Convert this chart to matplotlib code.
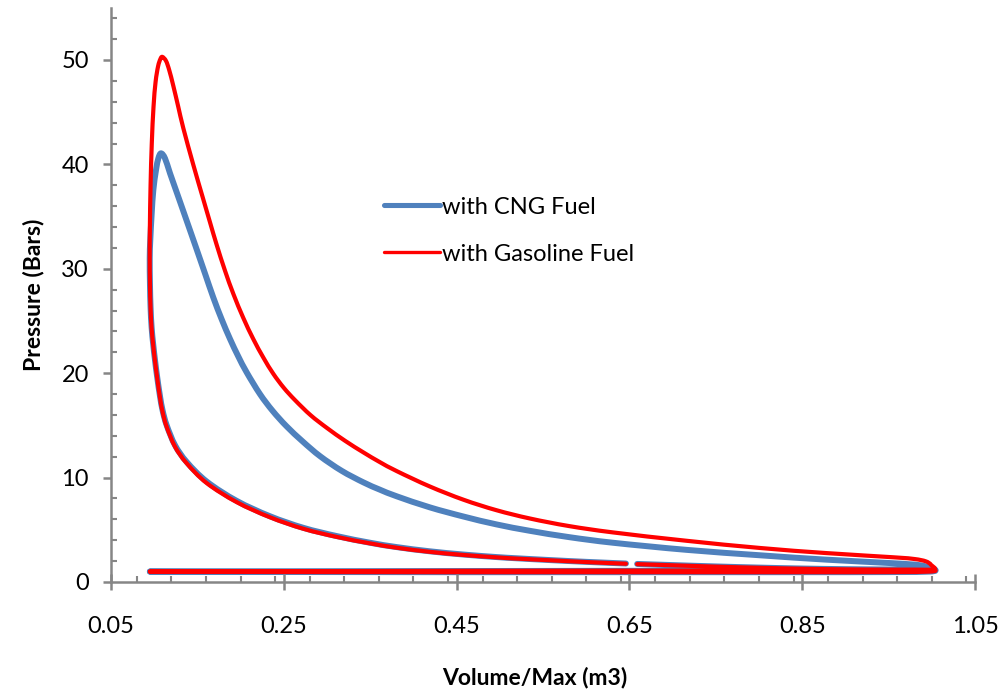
import numpy as np
import matplotlib
matplotlib.use("Agg")
import matplotlib.pyplot as plt
from matplotlib.path import Path
from matplotlib.patches import PathPatch
from matplotlib.lines import Line2D
from matplotlib.ticker import MultipleLocator, FixedLocator

nan = np.nan

# ---- data (Volume/Max, Pressure in bars) ----
# intake stroke (shared), TDC -> BDC
intake_v = [0.095, 0.15, 0.25, 0.35, 0.45, 0.55, 0.65, 0.75, 0.85, 0.95, 0.998]
intake_p = [1.00, 0.98, 0.96, 0.95, 0.94, 0.94, 0.94, 0.94, 0.94, 0.95, 1.00]

# compression stroke, BDC -> TDC (small gap near 0.65 as in the reference)
comp_v = [0.999, 0.95, 0.90, 0.85, 0.80, 0.75, 0.70, 0.659, nan, 0.646, 0.60,
          0.558, 0.52, 0.496, 0.458, 0.419, 0.381, 0.3498, 0.3112, 0.2726,
          0.234, 0.1955, 0.1608, 0.1376, 0.1241, 0.1145, 0.1098, 0.1067,
          0.1035, 0.1010, 0.0988, 0.0970, 0.0958, 0.0951, 0.0948]
comp_p_cng = [1.19, 1.20, 1.23, 1.29, 1.38, 1.49, 1.62, 1.73, nan, 1.77, 1.93,
              2.10, 2.27, 2.39, 2.63, 2.94, 3.34, 3.76, 4.40, 5.19,
              6.30, 7.77, 9.62, 11.5, 13.1, 15.0, 16.4, 17.8,
              19.6, 21.2, 22.8, 24.4, 26.3, 28.5, 31.0]
comp_p_gas = [1.17, 1.18, 1.21, 1.27, 1.36, 1.47, 1.60, 1.71, nan, 1.75, 1.91,
              2.08, 2.24, 2.36, 2.59, 2.89, 3.28, 3.70, 4.32, 5.10,
              6.20, 7.65, 9.47, 11.37, 12.96, 14.85, 16.25, 17.65,
              19.5, 21.1, 22.7, 24.3, 26.2, 28.5, 31.0]

# combustion + expansion, TDC -> BDC
cng_exp_v = [0.0955, 0.0971, 0.0990, 0.1021, 0.1048, 0.1079, 0.1125, 0.1183,
             0.1285, 0.1376, 0.1492, 0.1588, 0.1684, 0.1781, 0.1877, 0.1973,
             0.2071, 0.2225, 0.237, 0.253, 0.272, 0.292, 0.317, 0.342, 0.361,
             0.381, 0.419, 0.458, 0.496, 0.535, 0.58, 0.631, 0.716, 0.801,
             0.878, 0.955, 0.985, 0.998]
cng_exp_p = [32.8, 35.3, 37.55, 39.46, 40.58, 41.06, 40.58, 39.15,
             36.75, 34.6, 31.85, 29.55, 27.25, 25.16, 23.29, 21.61,
             20.07, 17.99, 16.40, 14.93, 13.45, 12.05, 10.65, 9.55, 8.85,
             8.20, 7.15, 6.27, 5.52, 4.90, 4.30, 3.76, 3.08, 2.56,
             2.14, 1.80, 1.62, 1.35]

gas_exp_v = [0.0950, 0.0958, 0.0972, 0.0992, 0.1016, 0.1045, 0.1072, 0.1094,
             0.1137, 0.1175, 0.1221, 0.1279, 0.1337, 0.1453, 0.156, 0.1646,
             0.1723, 0.1819, 0.1916, 0.2031, 0.2147, 0.2263, 0.2378, 0.250,
             0.263, 0.281, 0.300, 0.321, 0.342, 0.361, 0.381, 0.419, 0.458,
             0.496, 0.535, 0.58, 0.631, 0.716, 0.801, 0.878, 0.955, 0.980,
             0.993, 0.999]
gas_exp_p = [34.0, 38.0, 42.0, 45.5, 47.9, 49.4, 50.1, 50.3,
             49.91, 49.0, 47.53, 45.5, 43.47, 39.95, 36.89, 34.45,
             32.3, 29.83, 27.6, 25.3, 23.27, 21.5, 19.95, 18.6,
             17.42, 15.98, 14.75, 13.52, 12.42, 11.49, 10.61, 9.15, 7.88,
             6.88, 6.08, 5.36, 4.75, 3.95, 3.26, 2.77, 2.37, 2.20,
             1.98, 1.65]

# exhaust stroke, BDC -> TDC
exhaust_v = [1.0, 0.95, 0.85, 0.75, 0.65, 0.55, 0.45, 0.35, 0.25, 0.15, 0.095]
exhaust_p_cng = [1.14, 1.12, 1.10, 1.08, 1.07, 1.06, 1.05, 1.04, 1.03, 1.01, 1.00]
exhaust_p_gas = [1.16, 1.14, 1.12, 1.10, 1.09, 1.08, 1.07, 1.05, 1.04, 1.02, 1.00]

series_labels = ["with CNG Fuel", "with Gasoline Fuel"]
x_ticks = [0.05, 0.25, 0.45, 0.65, 0.85, 1.05]
x_tick_labels = ["0.05", "0.25", "0.45", "0.65", "0.85", "1.05"]
y_ticks = [0, 10, 20, 30, 40, 50]

# ---- build cycles ----
cng_v = intake_v + comp_v + cng_exp_v + exhaust_v
cng_p = intake_p + comp_p_cng + cng_exp_p + exhaust_p_cng
gas_v = intake_v + comp_v + gas_exp_v + exhaust_v
gas_p = intake_p + comp_p_gas + gas_exp_p + exhaust_p_gas


def smoothed_path(xs, ys):
    """Smoothed line through the points (like a spreadsheet 'smoothed line')."""
    xs = np.asarray(xs, float)
    ys = np.asarray(ys, float)
    verts, codes = [], []
    bad = np.isnan(xs) | np.isnan(ys)
    idx = np.where(bad)[0]
    starts = np.concatenate([[0], idx + 1])
    ends = np.concatenate([idx, [len(xs)]])
    for s, e in zip(starts, ends):
        P = np.column_stack([xs[s:e], ys[s:e]])
        n = len(P)
        if n == 0:
            continue
        verts.append(P[0]); codes.append(Path.MOVETO)
        if n == 1:
            continue
        Q = np.vstack([P[0], P, P[-1]])
        for i in range(n - 1):
            p0, p1, p2, p3 = Q[i], Q[i + 1], Q[i + 2], Q[i + 3]
            c1 = p1 + (p2 - p0) / 6.0
            c2 = p2 - (p3 - p1) / 6.0
            verts += [c1, c2, p2]
            codes += [Path.CURVE4] * 3
    return Path(np.array(verts), codes)


blue = "#4F81BD"
red = "#FF0000"
axis_gray = "#868686"
blue_lw = 4.3
red_lw = 3.0

fig = plt.figure(figsize=(10.02, 6.93), dpi=100)
ax = fig.add_axes([111 / 1002, 111 / 693, 864 / 1002, 574.2 / 693])

ax.add_patch(PathPatch(smoothed_path(cng_v, cng_p), fill=False, edgecolor=blue,
                       lw=blue_lw, capstyle="round", joinstyle="round"))
ax.add_patch(PathPatch(smoothed_path(gas_v, gas_p), fill=False, edgecolor=red,
                       lw=red_lw, capstyle="round", joinstyle="round"))

ax.set_xlim(0.05, 1.05)
ax.set_ylim(0, 55)

ax.xaxis.set_major_locator(FixedLocator(x_ticks))
ax.set_xticklabels(x_tick_labels)
ax.xaxis.set_minor_locator(MultipleLocator(0.04))
ax.yaxis.set_major_locator(FixedLocator(y_ticks))
ax.yaxis.set_minor_locator(MultipleLocator(2))

for s in ["top", "right"]:
    ax.spines[s].set_visible(False)
for s in ["left", "bottom"]:
    ax.spines[s].set_color(axis_gray)
    ax.spines[s].set_linewidth(1.8)

tick_font = "Lato"
ax.tick_params(axis="x", which="major", direction="inout", length=11,
               width=1.8, color=axis_gray, pad=19, labelsize=17)
ax.tick_params(axis="x", which="minor", direction="in", length=4.5,
               width=1.5, color=axis_gray)
ax.tick_params(axis="y", which="major", direction="out", length=6,
               width=1.8, color=axis_gray, pad=10, labelsize=17)
ax.tick_params(axis="y", which="minor", direction="in", length=4.5,
               width=1.5, color=axis_gray)
for lab in ax.get_xticklabels() + ax.get_yticklabels():
    lab.set_fontfamily(tick_font)

ax.set_xlabel("Volume/Max (m3)", fontsize=16.5, fontweight="bold",
              family="Lato", labelpad=21)
ax.xaxis.label.set_x(0.4907)
ax.set_ylabel("Pressure (Bars)", fontsize=16.5, fontweight="bold",
              family="Lato", labelpad=12)

handles = [Line2D([], [], color=blue, lw=blue_lw * 0.85, solid_capstyle="round"),
           Line2D([], [], color=red, lw=red_lw * 0.8, solid_capstyle="round")]
leg = ax.legend(handles, series_labels, loc="center left",
                bbox_to_anchor=(0.291, 0.612), frameon=False,
                handlelength=2.4, handletextpad=0.05, labelspacing=1.1,
                prop={"family": "Lato", "size": 17})

fig.savefig("out.png", dpi=100)
